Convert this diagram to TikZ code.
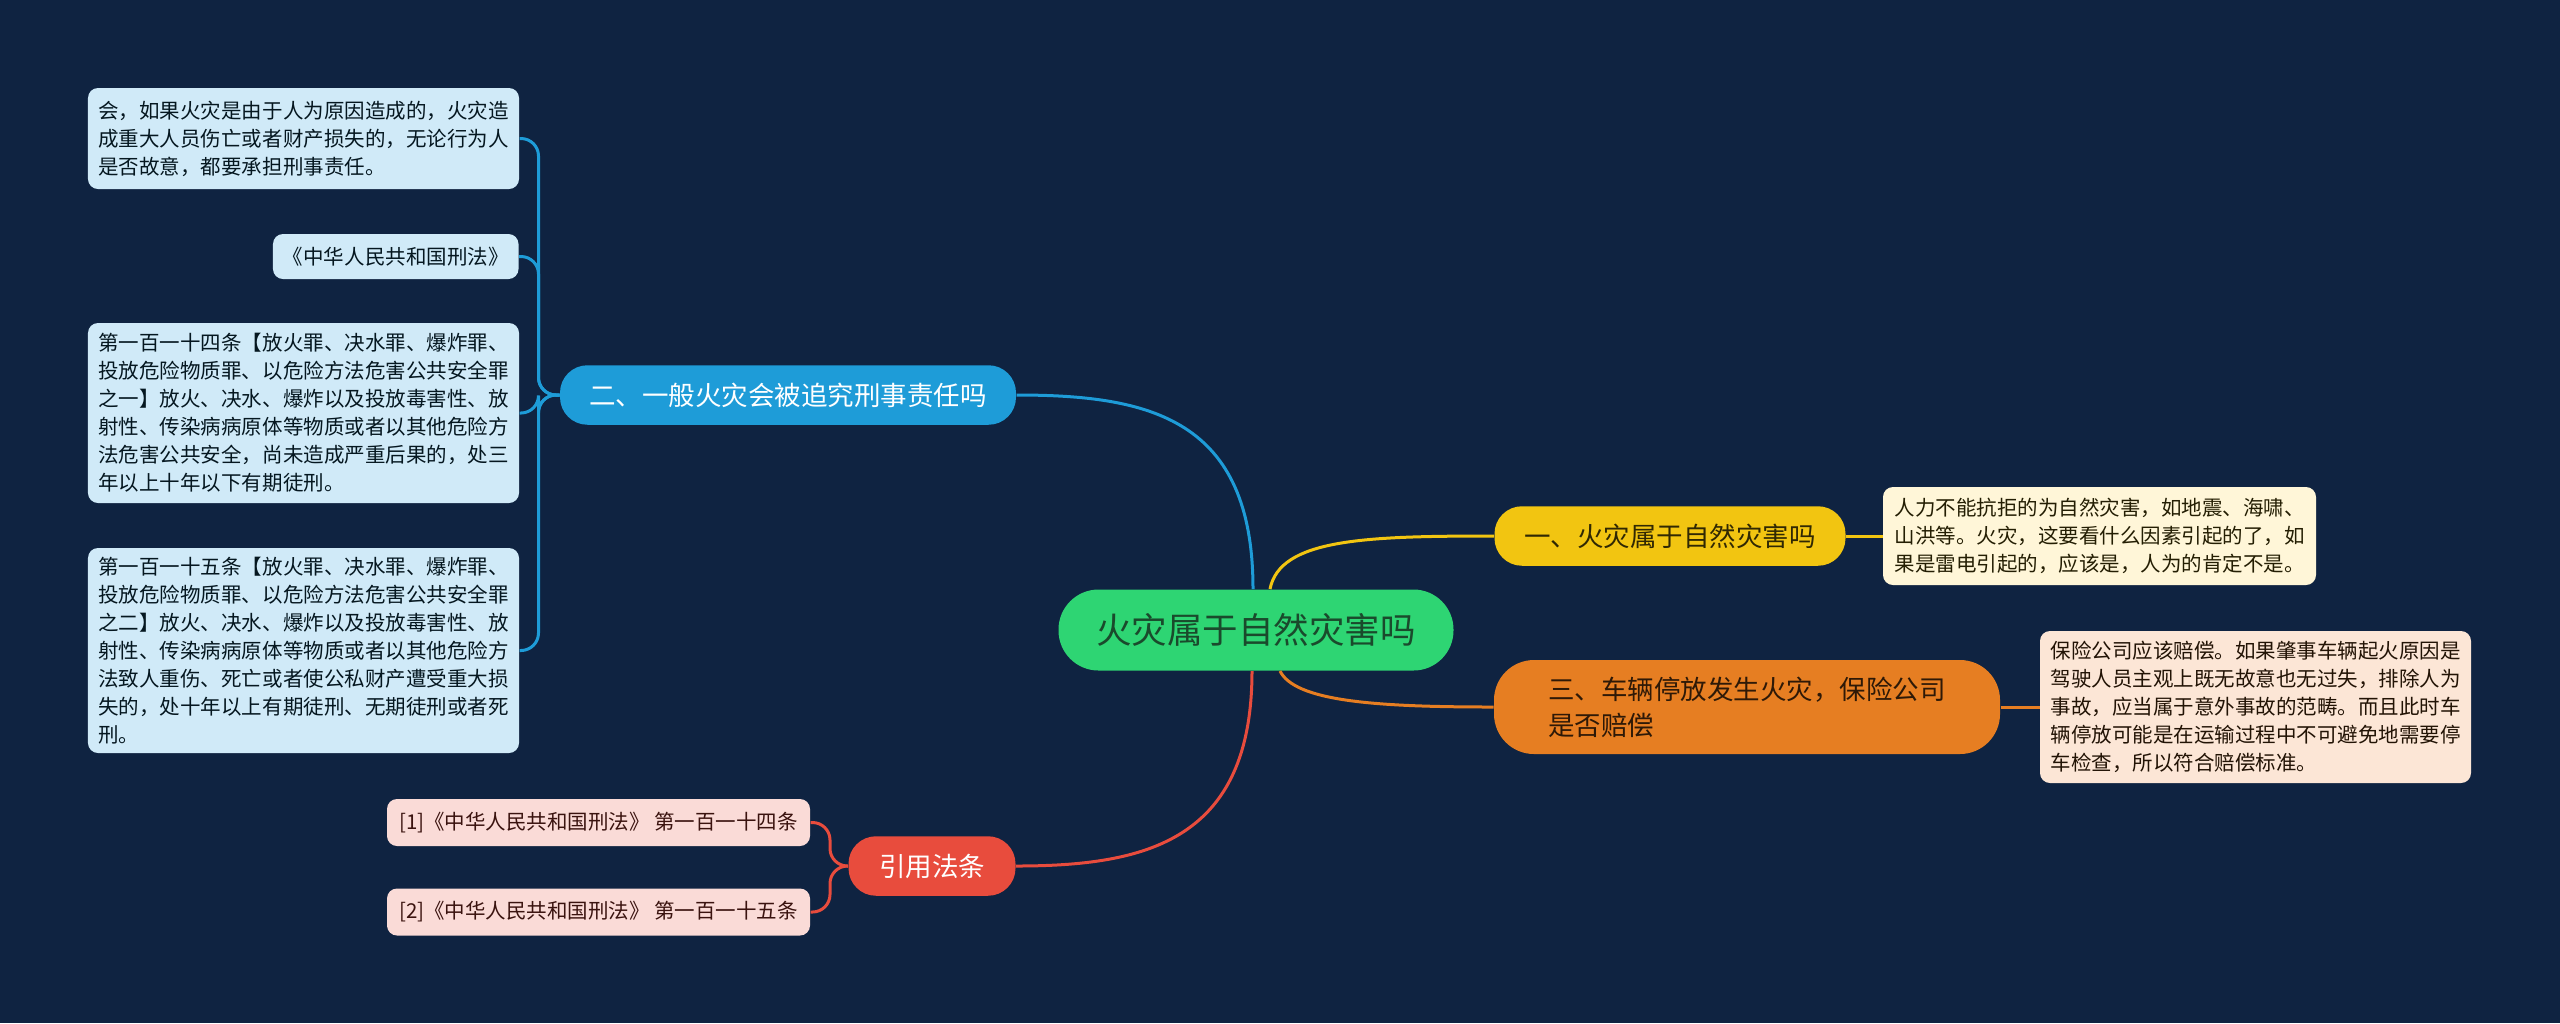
\documentclass[tikz,border=0pt]{standalone}
\usepackage{fontspec}
\setmainfont{Noto Sans CJK SC}
\usepackage{xcolor}
\usepackage{tikz}
\usetikzlibrary{positioning}

\definecolor{bgnavy}{HTML}{0F2341}
\definecolor{rootgreen}{HTML}{2ED573}
\definecolor{roottext}{HTML}{1A4A2C}
\definecolor{lawblue}{HTML}{1E9CD8}
\definecolor{natyellow}{HTML}{F2C511}
\definecolor{carorange}{HTML}{E67E22}
\definecolor{citered}{HTML}{E84C3D}
\definecolor{leafblue}{HTML}{D0EAF8}
\definecolor{leafcream}{HTML}{FFF6D8}
\definecolor{leafpeach}{HTML}{FCE6D6}
\definecolor{leafpink}{HTML}{FADBD7}

\begin{document}
\begin{tikzpicture}[x=0.4pt, y=-0.4pt,
  leaf/.style={rounded corners=4pt, inner xsep=4pt, inner ysep=2pt, align=left,
    font=\fontsize{8.2}{11.2}\selectfont},
  branch/.style={rounded corners=11pt, inner sep=0pt, minimum height=23.8pt,
    font=\fontsize{10.6}{14.4}\selectfont},
  link/.style={line width=1.2pt}]
  \fill[bgnavy] (0,0) rectangle (2560,1023);

  \node[fill=rootgreen, text=roottext, rounded corners=16pt, minimum width=158pt,
    minimum height=32.4pt, font=\fontsize{14.2}{16}\selectfont] (root) at (1256,630) {火灾属于自然灾害吗};

  \node[branch, fill=natyellow, text=black!80!natyellow, minimum width=140.4pt] (nat) at (1670,536) {一、火灾属于自然灾害吗};
  \node[branch, fill=lawblue, text=white, minimum width=182.4pt] (law) at (788,395) {二、一般火灾会被追究刑事责任吗};
  \node[branch, fill=carorange, text=black!80!carorange, minimum width=202.4pt, minimum height=37.6pt,
    rounded corners=16pt, align=left] (car) at (1747,707) {三、车辆停放发生火灾，保险公司\\是否赔偿};
  \node[branch, fill=citered, text=white, minimum width=66.8pt] (cite) at (932,866) {引用法条};

  \node[leaf, fill=leafcream, text=black!85!natyellow, minimum width=173.2pt, minimum height=39.2pt] (natinfo) at (2099.5,536)
    {人力不能抗拒的为自然灾害，如地震、海啸、\\山洪等。火灾，这要看什么因素引起的了，如\\果是雷电引起的，应该是，人为的肯定不是。};
  \node[leaf, fill=leafpeach, text=black!85!carorange, minimum width=172.4pt, minimum height=60.8pt] (carinfo) at (2255.5,707)
    {保险公司应该赔偿。如果肇事车辆起火原因是\\驾驶人员主观上既无故意也无过失，排除人为\\事故，应当属于意外事故的范畴。而且此时车\\辆停放可能是在运输过程中不可避免地需要停\\车检查，所以符合赔偿标准。};

  \node[leaf, fill=leafblue, text=black!85!lawblue, minimum width=172.4pt, minimum height=40.4pt] (lawa) at (303.5,138.5)
    {会，如果火灾是由于人为原因造成的，火灾造\\成重大人员伤亡或者财产损失的，无论行为人\\是否故意，都要承担刑事责任。};
  \node[leaf, fill=leafblue, text=black!85!lawblue, minimum height=18pt, anchor=east] (lawb) at (519,256.5)
    {《中华人民共和国刑法》};
  \node[leaf, fill=leafblue, text=black!85!lawblue, minimum width=172.4pt, minimum height=72pt] (lawc) at (303.5,413)
    {第一百一十四条【放火罪、决水罪、爆炸罪、\\投放危险物质罪、以危险方法危害公共安全罪\\之一】放火、决水、爆炸以及投放毒害性、放\\射性、传染病病原体等物质或者以其他危险方\\法危害公共安全，尚未造成严重后果的，处三\\年以上十年以下有期徒刑。};
  \node[leaf, fill=leafblue, text=black!85!lawblue, minimum width=172.4pt, minimum height=82pt] (lawd) at (303.5,650.5)
    {第一百一十五条【放火罪、决水罪、爆炸罪、\\投放危险物质罪、以危险方法危害公共安全罪\\之二】放火、决水、爆炸以及投放毒害性、放\\射性、传染病病原体等物质或者以其他危险方\\法致人重伤、死亡或者使公私财产遭受重大损\\失的，处十年以上有期徒刑、无期徒刑或者死\\刑。};

  \node[leaf, fill=leafpink, text=black!75!citered, minimum width=169.2pt, minimum height=18.8pt] (citea) at (598.5,822.5)
    {[1]《中华人民共和国刑法》 第一百一十四条};
  \node[leaf, fill=leafpink, text=black!75!citered, minimum width=169.2pt, minimum height=18.8pt] (citeb) at (598.5,912)
    {[2]《中华人民共和国刑法》 第一百一十五条};

  \draw[link, lawblue] ([xshift=-1.2pt]root.north) .. controls +(0,-170) and +(134,0) .. (law.east);
  \draw[link, natyellow] ([xshift=5.6pt]root.north) .. controls +(10,-50) and +(-130,0) .. (nat.west);
  \draw[link, carorange] ([xshift=9.6pt]root.south) .. controls +(15,30) and +(-120,0) .. (car.west);
  \draw[link, citered] ([xshift=-1.6pt]root.south) .. controls +(0,170) and +(130,0) .. (cite.east);

  \draw[link, natyellow] (nat.east) -- (natinfo.west);
  \draw[link, carorange] (car.east) -- (carinfo.west);

  \foreach \leafname in {lawa, lawb, lawc, lawd}
    \draw[link, lawblue, rounded corners=7pt] (law.west) -- ++(-21,0) |- (\leafname.east);
  \foreach \leafname in {citea, citeb}
    \draw[link, citered, rounded corners=7pt] (cite.west) -- ++(-18,0) |- (\leafname.east);
\end{tikzpicture}
\end{document}
